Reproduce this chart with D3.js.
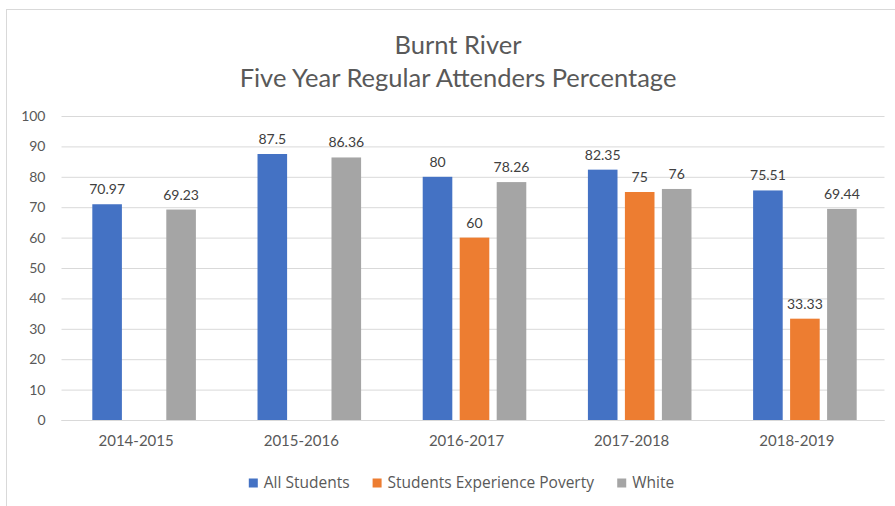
<!DOCTYPE html>
<html>
<head>
<meta charset="utf-8">
<script src="https://cdn.jsdelivr.net/npm/d3@7"></script>
<style>
  html, body { margin: 0; padding: 0; background: #fff; }
  svg { display: block; }
</style>
</head>
<body>
<svg id="chart" width="895" height="506"></svg>
<script>
const titleLines = ["Burnt River", "Five Year Regular Attenders Percentage"];
const categories = ["2014-2015", "2015-2016", "2016-2017", "2017-2018", "2018-2019"];
const seriesNames = ["All Students", "Students Experience Poverty", "White"];
const allStudents = [70.97, 87.5, 80, 82.35, 75.51];
const poverty = [null, null, 60, 75, 33.33];
const white = [69.23, 86.36, 78.26, 76, 69.44];
const yTicks = [0, 10, 20, 30, 40, 50, 60, 70, 80, 90, 100];
const colors = ["#4472C4", "#ED7D31", "#A5A5A5"];

const seriesValues = [allStudents, poverty, white];
const svg = d3.select("#chart");
const plot = { left: 61.5, right: 887.5, top: 116, bottom: 420 };
const textColor = "#595959";
const fontFam = "Lato, 'Open Sans', sans-serif";

// chart border (top and left visible)
svg.append("rect")
  .attr("x", 6.5).attr("y", 9.5)
  .attr("width", 960).attr("height", 560)
  .attr("fill", "none").attr("stroke", "#d9d9d9").attr("stroke-width", 1);

// title
svg.selectAll("text.title").data(titleLines).join("text")
  .attr("class", "title")
  .attr("x", 458).attr("y", (d, i) => 54 + i * 33)
  .attr("text-anchor", "middle")
  .attr("font-family", fontFam).attr("font-weight", 400)
  .attr("font-size", 25.5).attr("fill", textColor)
  .text(d => d);

const y = d3.scaleLinear().domain([0, 100]).range([plot.bottom, plot.top]);
const x0 = d3.scaleBand().domain(categories).range([plot.left, plot.right])
  .paddingInner(0.373).paddingOuter(0.1865);
const x1 = d3.scaleBand().domain(seriesNames).range([0, x0.bandwidth()]).paddingInner(0.2);

// gridlines
const gridG = svg.append("g").attr("transform", `translate(${plot.left},0)`)
  .call(d3.axisLeft(y).tickValues(yTicks).tickSize(-(plot.right - plot.left - 3)).tickFormat(""));
gridG.select(".domain").remove();
gridG.selectAll(".tick line").attr("stroke", "#d9d9d9").attr("stroke-width", 1);

// y tick labels
const yAxisG = svg.append("g").attr("transform", `translate(${plot.left},0)`)
  .call(d3.axisLeft(y).tickValues(yTicks).tickSize(0).tickPadding(16));
yAxisG.select(".domain").remove();
yAxisG.selectAll("text")
  .attr("font-family", fontFam).attr("font-size", 14).attr("fill", textColor);

// bars
const rows = categories.map((c, i) => ({
  cat: c,
  vals: seriesNames.map((s, j) => ({ s, j, v: seriesValues[j][i] })).filter(d => d.v != null)
}));

const groups = svg.append("g").selectAll("g").data(rows).join("g")
  .attr("transform", d => `translate(${x0(d.cat)},0)`);

groups.selectAll("rect").data(d => d.vals).join("rect")
  .attr("x", d => x1(d.s))
  .attr("y", d => y(d.v))
  .attr("width", x1.bandwidth())
  .attr("height", d => y(0) - y(d.v))
  .attr("fill", d => colors[d.j]);

groups.selectAll("text.lbl").data(d => d.vals).join("text")
  .attr("class", "lbl")
  .attr("x", d => x1(d.s) + x1.bandwidth() / 2)
  .attr("y", d => y(d.v) - 10)
  .attr("text-anchor", "middle")
  .attr("font-family", fontFam).attr("font-size", 14).attr("fill", "#404040")
  .text(d => d.v);

// x axis
const xAxisG = svg.append("g").attr("transform", `translate(0,${plot.bottom})`)
  .call(d3.axisBottom(x0).tickSize(0).tickPadding(15));
xAxisG.select(".domain").attr("stroke", "#d9d9d9")
  .attr("d", `M${plot.left},0.5H${plot.right - 3}`);
xAxisG.selectAll("text")
  .attr("font-family", fontFam).attr("font-size", 15).attr("fill", textColor)
  .attr("dx", -8);

// legend
const legend = svg.append("g");
const items = legend.selectAll("g").data(seriesNames).join("g");
items.append("rect").attr("width", 9).attr("height", 9).attr("y", -9.5)
  .attr("fill", (d, i) => colors[i]);
items.append("text").attr("x", 15).attr("y", 0)
  .attr("font-family", "'Open Sans', sans-serif").attr("font-size", 15.5).attr("fill", textColor)
  .text(d => d);
let cx = 0;
items.each(function () {
  const w = this.getBBox().width;
  d3.select(this).attr("transform", `translate(${cx},0)`);
  cx += w + 23;
});
const totalW = cx - 23;
legend.attr("transform", `translate(${461.5 - totalW / 2},488)`);
</script>
</body>
</html>
